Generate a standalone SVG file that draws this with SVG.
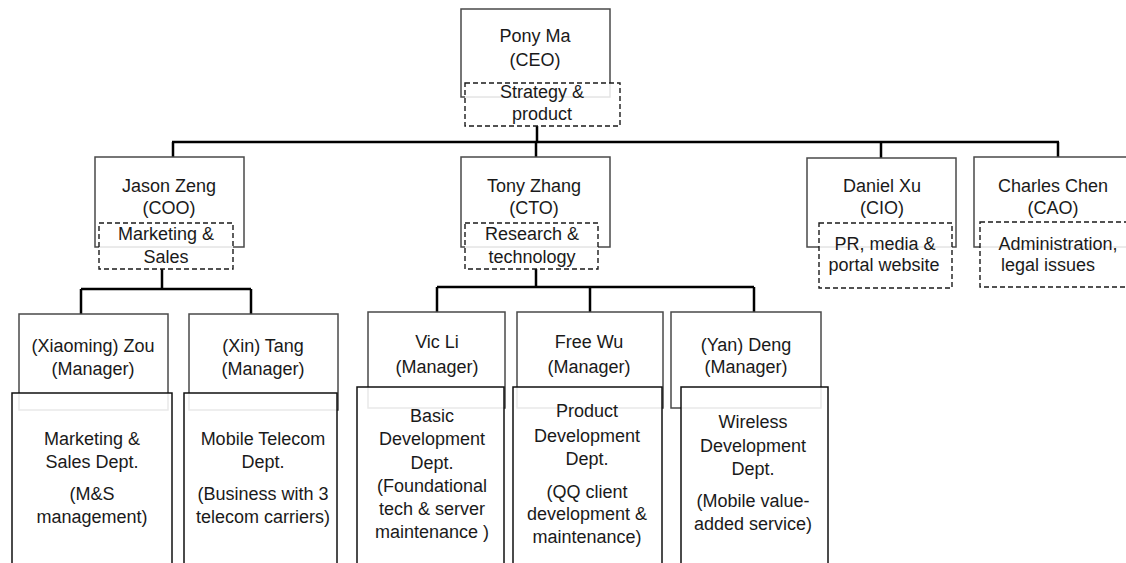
<svg xmlns="http://www.w3.org/2000/svg" width="1126" height="563" viewBox="0 0 1126 563">
<style>
  .bg { fill: #ffffff; }
  .box { fill: #ffffff; stroke: #4a4a4a; stroke-width: 1.5; }
  .role { fill: #ffffff; fill-opacity: 0.85; stroke: #1a1a1a; stroke-width: 1.4; stroke-dasharray: 5 3; }
  .dept { fill: #ffffff; fill-opacity: 0.88; stroke: #111111; stroke-width: 1.5; }
  .conn { fill: none; stroke: #000000; stroke-width: 2.5; }
  text { font-family: "Liberation Sans", Arial, sans-serif; font-size: 18px; fill: #1a1a1a; text-anchor: middle; }
</style>
<rect class="bg" x="0" y="0" width="1126" height="563"/>

<g id="connectors">
  <path class="conn" d="M537,126 V142 M172,142 H1059 M173,142 V157 M536,142 V157 M881,142 V158 M1058,142 V157"/>
  <path class="conn" d="M162,269 V289 M81,289 H251 M81,289 V314 M251,289 V317"/>
  <path class="conn" d="M536,269 V287 M437,287 H754 M437,287 V315 M590,287 V315 M754,287 V315"/>
</g>

<g id="ceo">
  <rect class="box" x="461" y="9" width="149" height="88"/>
  <text x="535" y="42">Pony Ma</text>
  <text x="535" y="66">(CEO)</text>
  <rect class="role" x="465" y="83" width="155" height="43"/>
  <text x="542" y="98">Strategy &amp;</text>
  <text x="542" y="120">product</text>
</g>

<g id="coo">
  <rect class="box" x="95" y="157" width="149" height="90"/>
  <text x="169" y="192">Jason Zeng</text>
  <text x="169" y="214">(COO)</text>
  <rect class="role" x="99" y="223" width="134" height="46"/>
  <text x="166" y="240">Marketing &amp;</text>
  <text x="166" y="263">Sales</text>
</g>

<g id="cto">
  <rect class="box" x="461" y="157" width="149" height="90"/>
  <text x="534" y="192">Tony Zhang</text>
  <text x="534" y="214">(CTO)</text>
  <rect class="role" x="465" y="223" width="133" height="46"/>
  <text x="532" y="240">Research &amp;</text>
  <text x="532" y="263">technology</text>
</g>

<g id="cio">
  <rect class="box" x="807" y="158" width="149" height="89"/>
  <text x="882" y="192">Daniel Xu</text>
  <text x="882" y="214">(CIO)</text>
  <rect class="role" x="819" y="223" width="133" height="65"/>
  <text x="885" y="250">PR, media &amp;</text>
  <text x="884" y="271">portal website</text>
</g>

<g id="cao">
  <rect class="box" x="974" y="157" width="170" height="90"/>
  <text x="1053" y="192">Charles Chen</text>
  <text x="1053" y="214">(CAO)</text>
  <rect class="role" x="980" y="222" width="160" height="65"/>
  <text x="1058" y="250">Administration,</text>
  <text x="1048" y="271">legal issues</text>
</g>

<g id="mgr-zou">
  <rect class="box" x="19" y="314" width="149" height="96"/>
  <text x="93" y="352">(Xiaoming) Zou</text>
  <text x="93" y="375">(Manager)</text>
</g>
<g id="dept-marketing">
  <rect class="dept" x="12" y="393" width="160" height="185"/>
  <text x="92" y="445">Marketing &amp;</text>
  <text x="92" y="468">Sales Dept.</text>
  <text x="92" y="500">(M&amp;S</text>
  <text x="92" y="523">management)</text>
</g>

<g id="mgr-tang">
  <rect class="box" x="189" y="314" width="149" height="96"/>
  <text x="263" y="352">(Xin) Tang</text>
  <text x="263" y="375">(Manager)</text>
</g>
<g id="dept-telecom">
  <rect class="dept" x="184" y="393" width="153" height="185"/>
  <text x="263" y="445">Mobile Telecom</text>
  <text x="263" y="468">Dept.</text>
  <text x="263" y="500">(Business with 3</text>
  <text x="263" y="523">telecom carriers)</text>
</g>

<g id="mgr-li">
  <rect class="box" x="368" y="312" width="137" height="96"/>
  <text x="437" y="348">Vic Li</text>
  <text x="437" y="373">(Manager)</text>
</g>
<g id="dept-basic">
  <rect class="dept" x="357" y="387" width="147" height="190"/>
  <text x="432" y="422">Basic</text>
  <text x="432" y="445">Development</text>
  <text x="432" y="469">Dept.</text>
  <text x="432" y="492">(Foundational</text>
  <text x="432" y="515">tech &amp; server</text>
  <text x="432" y="538">maintenance )</text>
</g>

<g id="mgr-wu">
  <rect class="box" x="517" y="312" width="146" height="96"/>
  <text x="589" y="348">Free Wu</text>
  <text x="589" y="373">(Manager)</text>
</g>
<g id="dept-product">
  <rect class="dept" x="513" y="387" width="149" height="190"/>
  <text x="587" y="417">Product</text>
  <text x="587" y="442">Development</text>
  <text x="587" y="465">Dept.</text>
  <text x="587" y="498">(QQ client</text>
  <text x="587" y="520">development &amp;</text>
  <text x="587" y="543">maintenance)</text>
</g>

<g id="mgr-deng">
  <rect class="box" x="671" y="312" width="150" height="96"/>
  <text x="746" y="351">(Yan) Deng</text>
  <text x="746" y="373">(Manager)</text>
</g>
<g id="dept-wireless">
  <rect class="dept" x="681" y="387" width="147" height="190"/>
  <text x="753" y="428">Wireless</text>
  <text x="753" y="452">Development</text>
  <text x="753" y="475">Dept.</text>
  <text x="753" y="507">(Mobile value-</text>
  <text x="753" y="530">added service)</text>
</g>
</svg>
